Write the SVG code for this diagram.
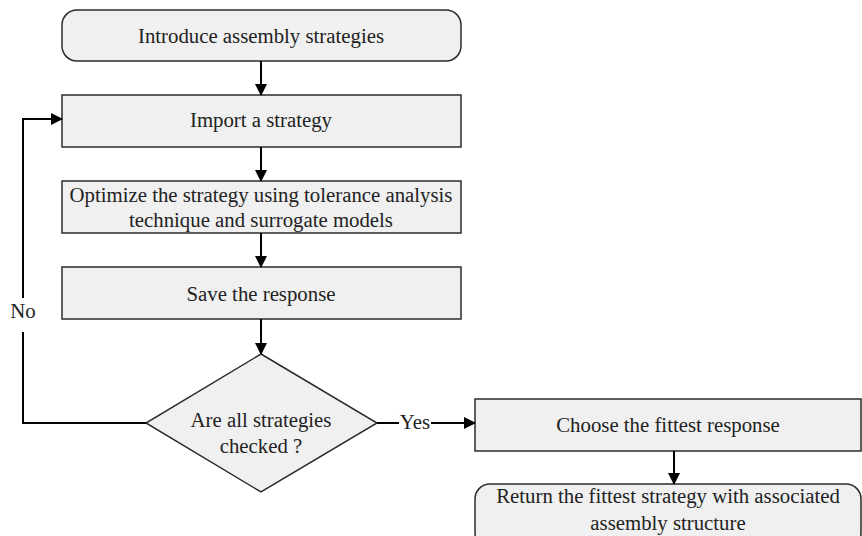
<svg xmlns="http://www.w3.org/2000/svg" width="862" height="536" viewBox="0 0 862 536">
<defs>
<style>
.box{fill:#f0f0f0;stroke:#2b2b2b;stroke-width:1.5}
.t{font-family:"Liberation Serif","Times New Roman",serif;font-size:20.8px;fill:#222;text-anchor:middle}
.c{fill:none;stroke:#000;stroke-width:2}
</style>
<marker id="ah" markerWidth="12" markerHeight="12" refX="11" refY="6" orient="auto" markerUnits="userSpaceOnUse">
<path d="M0,0 L12,6 L0,12 Z" fill="#000"/>
</marker>
</defs>
<rect width="862" height="536" fill="#fff"/>
<g id="n1"><rect class="box" x="62" y="10" width="399" height="51" rx="15"/><text class="t" x="261" y="42.5">Introduce assembly strategies</text></g>
<g id="n2"><rect class="box" x="62" y="95" width="399" height="52"/><text class="t" x="261" y="127">Import a strategy</text></g>
<g id="n3"><rect class="box" x="62" y="181" width="399" height="52"/><text class="t" x="261" y="201.5">Optimize the strategy using tolerance analysis</text><text class="t" x="261" y="227">technique and surrogate models</text></g>
<g id="n4"><rect class="box" x="62" y="267" width="399" height="52"/><text class="t" x="261" y="300.5">Save the response</text></g>
<g id="n5"><polygon class="box" points="261,354 377,423 261,492 146,423"/><text class="t" x="261" y="427">Are all strategies</text><text class="t" x="261" y="452.5">checked ?</text></g>
<g id="n6"><rect class="box" x="475" y="399" width="386" height="52"/><text class="t" x="668" y="432">Choose the fittest response</text></g>
<g id="n7"><rect class="box" x="475" y="484" width="386" height="64" rx="15"/><text class="t" x="668" y="503">Return the fittest strategy with associated</text><text class="t" x="668" y="530">assembly structure</text></g>
<g id="connectors">
<line class="c" x1="261" y1="61" x2="261" y2="95" marker-end="url(#ah)"/>
<line class="c" x1="261" y1="147" x2="261" y2="181" marker-end="url(#ah)"/>
<line class="c" x1="261" y1="233" x2="261" y2="267" marker-end="url(#ah)"/>
<line class="c" x1="261" y1="319" x2="261" y2="354" marker-end="url(#ah)"/>
<polyline class="c" points="146,423 23,423 23,332"/>
<polyline class="c" points="23,298 23,119 62,119" marker-end="url(#ah)"/>
<text class="t" x="23" y="318">No</text>
<line class="c" x1="377" y1="423" x2="399" y2="423"/>
<text class="t" x="415" y="429">Yes</text>
<line class="c" x1="431" y1="423" x2="475" y2="423" marker-end="url(#ah)"/>
<line class="c" x1="674" y1="451" x2="674" y2="484" marker-end="url(#ah)"/>
</g>
</svg>
